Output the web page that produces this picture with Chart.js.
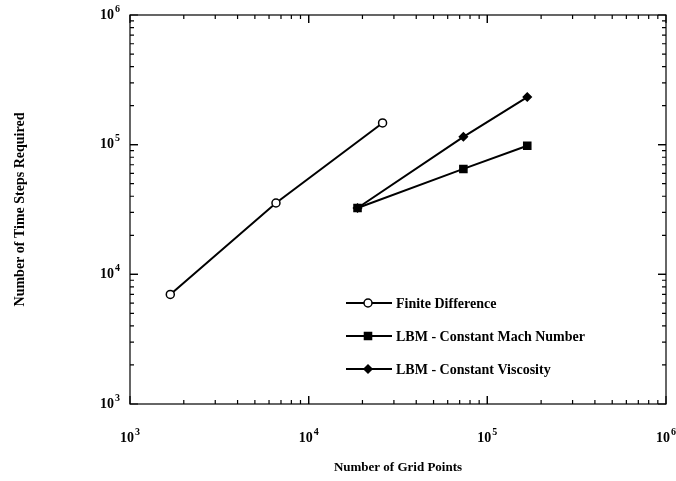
<!DOCTYPE html>
<html>
<head>
<meta charset="utf-8">
<script src="https://cdn.jsdelivr.net/npm/chart.js@4.4.1/dist/chart.umd.min.js"></script>
<style>
    html, body { margin: 0; padding: 0; background: #fff; }
    #wrap { width: 676px; height: 481px; }
</style>
</head>
<body>
<div id="wrap"><canvas id="steps-chart" width="676" height="481"></canvas></div>
<script>
// Data
const fdGrid = [1681, 6561, 25921];
const fdSteps = [7000, 35500, 147000];
const lbmGrid = [18769, 73441, 167281];
const machSteps = [32500, 65000, 98000];
const viscSteps = [32500, 115000, 233000];
const decadeTicks = [1e3, 1e4, 1e5, 1e6];
const decadeExponents = ['3', '4', '5', '6'];
const seriesNames = ['Finite Difference', 'LBM - Constant Mach Number', 'LBM - Constant Viscosity'];

(function() {
    'use strict';

    const SERIF = '"Liberation Serif", "DejaVu Serif", serif';

    function toPoints(xs, ys) {
        return xs.map(function(x, i) { return { x: x, y: ys[i] }; });
    }

    // "10" with a raised exponent, drawn as text
    function drawPower(ctx, exp, x, y, align) {
        ctx.font = 'bold 14px ' + SERIF;
        const baseW = ctx.measureText('10').width;
        ctx.font = 'bold 10px ' + SERIF;
        const expW = ctx.measureText(exp).width;
        const total = baseW + expW + 1;
        let left = x - total / 2;
        if (align === 'right') left = x - total;
        ctx.textAlign = 'left';
        ctx.textBaseline = 'middle';
        ctx.font = 'bold 14px ' + SERIF;
        ctx.fillText('10', left, y);
        ctx.font = 'bold 10px ' + SERIF;
        ctx.fillText(exp, left + baseW + 1, y - 6);
    }

    // Frame, inward ticks on all four sides, tick labels, legend inside the plot
    const framePlugin = {
        id: 'frame',
        afterDatasetsDraw: function(chart) {
            const ctx = chart.ctx;
            const area = chart.chartArea;
            const xs = chart.scales.x;
            const ys = chart.scales.y;

            ctx.save();
            ctx.strokeStyle = '#000';
            ctx.fillStyle = '#000';
            ctx.lineWidth = 1.2;
            ctx.strokeRect(area.left, area.top, area.right - area.left, area.bottom - area.top);

            for (let d = 3; d < 6; d++) {
                for (let m = 1; m <= 10; m++) {
                    const v = m * Math.pow(10, d);
                    const len = (m === 1 || m === 10) ? 8 : 4;
                    const px = xs.getPixelForValue(v);
                    const py = ys.getPixelForValue(v);
                    ctx.beginPath();
                    ctx.moveTo(px, area.bottom); ctx.lineTo(px, area.bottom - len);
                    ctx.moveTo(px, area.top); ctx.lineTo(px, area.top + len);
                    ctx.moveTo(area.left, py); ctx.lineTo(area.left + len, py);
                    ctx.moveTo(area.right, py); ctx.lineTo(area.right - len, py);
                    ctx.stroke();
                }
            }

            // Tick labels
            decadeTicks.forEach(function(v, i) {
                drawPower(ctx, decadeExponents[i], xs.getPixelForValue(v), area.bottom + 34, 'center');
                drawPower(ctx, decadeExponents[i], area.left - 10, ys.getPixelForValue(v), 'right');
            });

            // Legend
            const lx = 346, ly = 303, gap = 33;
            chart.data.datasets.forEach(function(ds, i) {
                const y = ly + i * gap;
                ctx.strokeStyle = '#000';
                ctx.lineWidth = 2;
                ctx.beginPath();
                ctx.moveTo(lx, y);
                ctx.lineTo(lx + 46, y);
                ctx.stroke();
                ctx.fillStyle = ds.pointBackgroundColor;
                ctx.lineWidth = ds.pointBorderWidth;
                Chart.helpers.drawPoint(ctx, {
                    pointStyle: ds.pointStyle,
                    radius: ds.pointRadius,
                    borderWidth: ds.pointBorderWidth
                }, lx + 22, y);
                ctx.fillStyle = '#000';
                ctx.font = 'bold 14px ' + SERIF;
                ctx.textAlign = 'left';
                ctx.textBaseline = 'middle';
                ctx.fillText(ds.label, lx + 50, y + 1);
            });
            ctx.restore();
        }
    };

    function keepDecades(scale) {
        scale.ticks = decadeTicks.map(function(v) { return { value: v }; });
    }

    const canvas = document.getElementById('steps-chart');
    const lineStyle = {
        borderColor: '#000',
        borderWidth: 2,
        pointBorderColor: '#000',
        pointBorderWidth: 1.5,
        tension: 0
    };

    new Chart(canvas, {
        type: 'line',
        data: {
            datasets: [
                Object.assign({
                    label: seriesNames[0],
                    data: toPoints(fdGrid, fdSteps),
                    pointStyle: 'circle',
                    pointRadius: 4,
                    pointBackgroundColor: '#fff'
                }, lineStyle),
                Object.assign({
                    label: seriesNames[1],
                    data: toPoints(lbmGrid, machSteps),
                    pointStyle: 'rect',
                    pointRadius: 5,
                    pointBackgroundColor: '#000'
                }, lineStyle),
                Object.assign({
                    label: seriesNames[2],
                    data: toPoints(lbmGrid, viscSteps),
                    pointStyle: 'rectRot',
                    pointRadius: 4,
                    pointBackgroundColor: '#000'
                }, lineStyle)
            ]
        },
        options: {
            responsive: false,
            animation: false,
            layout: {
                padding: { top: 15, right: 10, left: 0, bottom: 0 }
            },
            plugins: {
                legend: { display: false },
                tooltip: { enabled: false }
            },
            scales: {
                x: {
                    type: 'logarithmic',
                    min: 1e3,
                    max: 1e6,
                    afterBuildTicks: keepDecades,
                    afterFit: function(scale) {
                        scale.height = 77;
                        scale.paddingLeft = 0;
                        scale.paddingRight = 0;
                    },
                    grid: { display: false, drawTicks: false },
                    border: { display: false },
                    ticks: { display: false },
                    title: {
                        display: true,
                        text: 'Number of Grid Points',
                        color: '#000',
                        padding: { top: 6, bottom: 6 },
                        font: { family: SERIF, size: 13, weight: 'bold' }
                    }
                },
                y: {
                    type: 'logarithmic',
                    min: 1e3,
                    max: 1e6,
                    afterBuildTicks: keepDecades,
                    afterFit: function(scale) {
                        scale.width = 130;
                        scale.paddingTop = 0;
                        scale.paddingBottom = 0;
                    },
                    grid: { display: false, drawTicks: false },
                    border: { display: false },
                    ticks: { display: false },
                    title: {
                        display: true,
                        text: 'Number of Time Steps Required',
                        color: '#000',
                        padding: { top: 12, bottom: 6 },
                        font: { family: SERIF, size: 14, weight: 'bold' }
                    }
                }
            }
        },
        plugins: [framePlugin]
    });
})();
</script>
</body>
</html>
